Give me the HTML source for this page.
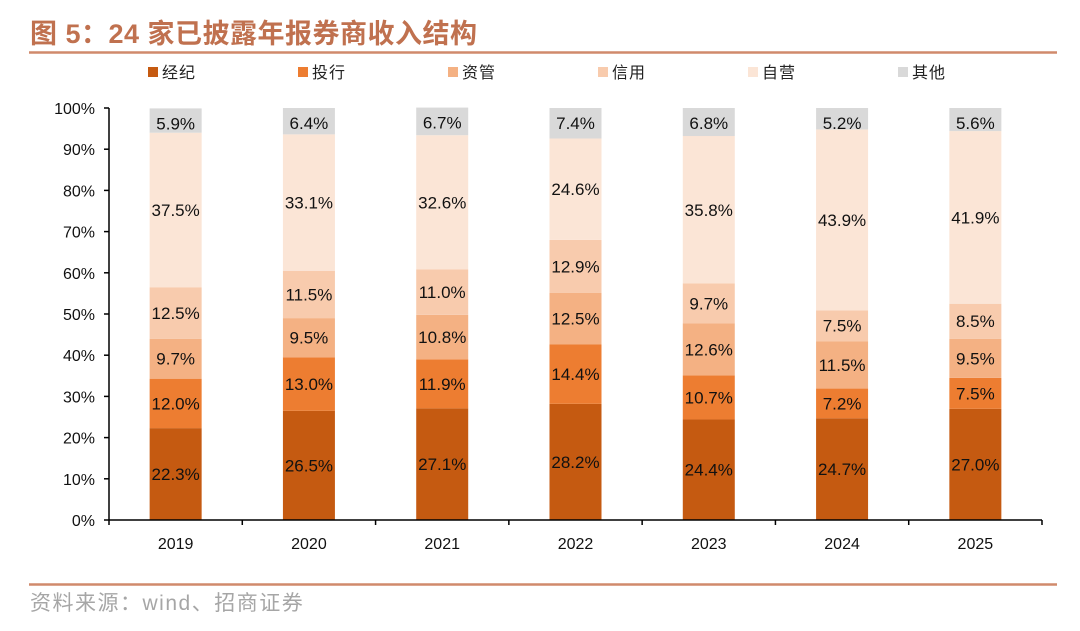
<!DOCTYPE html>
<html><head><meta charset="utf-8"><style>
body{margin:0;width:1080px;height:626px;background:#fff;overflow:hidden;font-family:"Liberation Sans","Noto Sans CJK SC",sans-serif}
</style></head><body>
<svg id="c" width="1080" height="626" xmlns="http://www.w3.org/2000/svg">
<text x="30" y="43" font-size="27" font-weight="bold" fill="#C0714F" letter-spacing="0.5" font-family="Liberation Sans,Noto Sans CJK SC,sans-serif">图 5：24 家已披露年报券商收入结构</text>
<line x1="29" y1="52.5" x2="1057" y2="52.5" stroke="#D08A6C" stroke-width="2.5"/>
<line x1="29" y1="584.5" x2="1057" y2="584.5" stroke="#D08A6C" stroke-width="2.5"/>
<text x="30" y="610" font-size="21" letter-spacing="1.5" fill="#A6A6A6">资料来源：wind、招商证券</text>
<g id="legend"></g><g id="plot"></g>
</svg>
<script>
const categories=["2019","2020","2021","2022","2023","2024","2025"];
const seriesNames=["经纪","投行","资管","信用","自营","其他"];
const brokerage=[22.3,26.5,27.1,28.2,24.4,24.7,27.0];
const ibanking=[12.0,13.0,11.9,14.4,10.7,7.2,7.5];
const assetMgmt=[9.7,9.5,10.8,12.5,12.6,11.5,9.5];
const credit=[12.5,11.5,11.0,12.9,9.7,7.5,8.5];
const proprietary=[37.5,33.1,32.6,24.6,35.8,43.9,41.9];
const other=[5.9,6.4,6.7,7.4,6.8,5.2,5.6];
const yTicks=[0,10,20,30,40,50,60,70,80,90,100];
const series=[brokerage,ibanking,assetMgmt,credit,proprietary,other];
const colors=["#C55A11","#ED7D31","#F4B183","#F8CBAD","#FBE5D6","#D9D9D9"];
const NS="http://www.w3.org/2000/svg";
const x0=109,x1=1042,y0=520,yTop=108;
const band=(x1-x0)/categories.length,bw=52;
const y=v=>y0-(v/100)*(y0-yTop);
const cx=i=>x0+band*(i+0.5);
function mk(t,a,p){const e=document.createElementNS(NS,t);for(const k in a)e.setAttribute(k,a[k]);p.appendChild(e);return e;}
const plot=document.getElementById('plot'),leg=document.getElementById('legend');
seriesNames.forEach((n,k)=>{
 const g=mk('g',{},leg);
 
 
 mk('rect',{x:148+k*150,y:67,width:10,height:10,fill:colors[k]},g);
 const t=mk('text',{x:162+k*150,y:78,'font-size':16,'letter-spacing':1,fill:'#222'},g);t.textContent=n;
});
categories.forEach((c,i)=>{
 let acc=0;
 series.forEach((s,k)=>{
  const v=s[i];
  const r=mk('rect',{x:cx(i)-bw/2,y:y(acc+v),width:bw,height:y(acc)-y(acc+v),fill:colors[k]},plot);
  
  
  const t=mk('text',{x:cx(i),y:(k==5?y(acc+v)+21:(y(acc)+y(acc+v))/2+6),'font-size':17,'text-anchor':'middle',fill:'#111'},plot);
  
  
  t.textContent=v.toFixed(1)+'%';
  acc+=v;
 });
 const xl=mk('text',{x:cx(i),y:549,'font-size':16,'text-anchor':'middle',fill:'#111'},plot);
 
 
 xl.textContent=c;
});
const ax=mk('line',{x1:x0,y1:y0,x2:x0,y2:yTop,stroke:'#000','stroke-width':1.5},plot);


const bx=mk('line',{x1:x0,y1:y0,x2:x1,y2:y0,stroke:'#000','stroke-width':1.5},plot);


yTicks.forEach(v=>{
 mk('line',{x1:x0-5,y1:y(v),x2:x0,y2:y(v),stroke:'#000','stroke-width':1.5},plot);
 const t=mk('text',{x:x0-14,y:y(v)+6,'font-size':16,'text-anchor':'end',fill:'#111'},plot);
 
 
 t.textContent=v+'%';
});
for(let i=0;i<=categories.length;i++)mk('line',{x1:x0+band*i,y1:y0,x2:x0+band*i,y2:y0+5,stroke:'#000','stroke-width':1.5},plot);
</script>
</body></html>
